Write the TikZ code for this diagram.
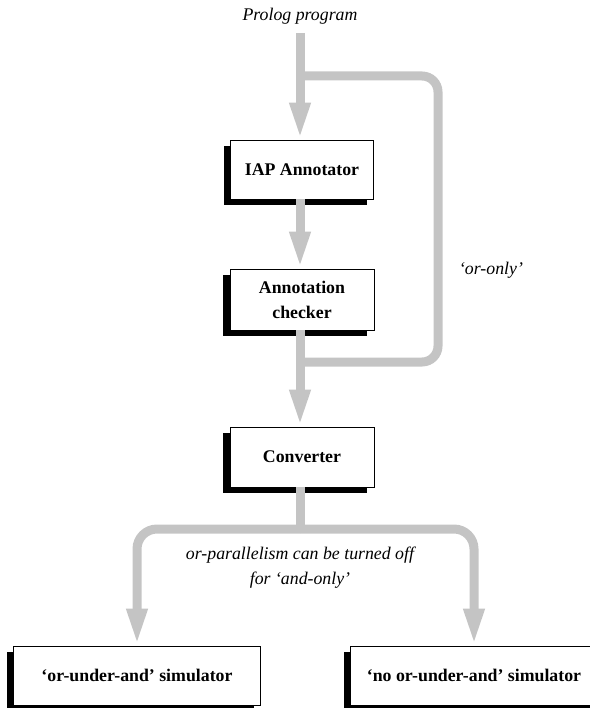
\documentclass[tikz,border=0pt]{standalone}
\usepackage{fontspec}
\setmainfont{Liberation Serif}
\usetikzlibrary{positioning,calc,arrows.meta,shadows}
\definecolor{pipegray}{RGB}{196,196,196}

\begin{document}
\begin{tikzpicture}[
    x=1pt, y=-1pt,
    box/.style={draw=black, line width=0.8pt, fill=white, align=center,
        font=\fontsize{17.8}{25}\selectfont\bfseries,
        general shadow={fill=black, shadow xshift=-7pt, shadow yshift=-6pt}},
    pipe/.style={draw=pipegray, line width=9pt},
    flow/.style={pipe, -{Triangle[length=37pt, width=19pt]}},
    note/.style={font=\fontsize{17.8}{25}\selectfont\itshape, align=center}
]
\useasboundingbox (0,0) rectangle (589,708);

% Input
\node[note] (prolog) at (300,16.5) {Prolog program};
\coordinate (in) at (300,33);

% Boxes
\node[box, minimum width=143pt, minimum height=59pt] (iap) at (302,169.5) {IAP Annotator};
\node[box, minimum width=144pt, minimum height=61pt] (check) at (302,299.5) {Annotation\\checker};
\node[box, minimum width=144pt, minimum height=60pt] (conv) at (302,457) {Converter};
\node[box, minimum width=247pt, minimum height=59pt] (left) at (137,675.5) {`or-under-and' simulator};
\node[box, minimum width=247pt, minimum height=59pt] (right) at (474,675.5) {`no or-under-and' simulator};

% Bypass loop
\coordinate (fork) at (300,76);
\coordinate (join) at (300,362);
\draw[pipe, rounded corners=16pt] (fork) -- (438,76) -- (438,362) -- (join);
\node[note] (oronly) at (491,270) {`or-only'};

% Main flow
\draw[flow] (in) -- (in |- iap.north);
\draw[flow] (iap.south -| in) -- (in |- check.north);
\draw[flow] (check.south -| in) -- (in |- conv.north);

% Split
\coordinate (split) at (300,529);
\draw[pipe] (conv.south -| in) -- (split);
\draw[flow, rounded corners=20pt] (split) -| (left.north);
\draw[flow, rounded corners=20pt] (split) -| (right.north);
\node[note] (off) at (300,568) {or-parallelism can be turned off\\for `and-only'};

\end{tikzpicture}
\end{document}
